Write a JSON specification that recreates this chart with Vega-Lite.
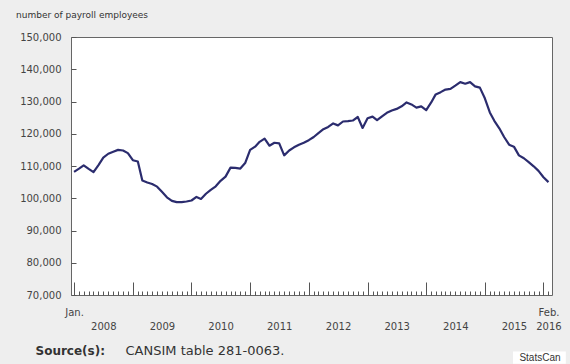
{
  "$schema": "https://vega.github.io/schema/vega-lite/v6.json",
  "autosize": "none",
  "width": 481,
  "height": 258,
  "padding": {"left": 71, "top": 37, "right": 18, "bottom": 69},
  "background": "#eeeeee",
  "title": {
    "text": "number of payroll employees",
    "anchor": "start",
    "frame": "group",
    "dx": -55,
    "offset": 12,
    "font": "DejaVu Sans",
    "fontSize": 9,
    "fontWeight": "normal",
    "color": "#333333"
  },
  "config": {
    "view": {"stroke": "#666666", "strokeWidth": 1, "fill": "white"},
    "axisX": {
      "zindex": 1,
      "tickCount": {"interval": "month", "step": 1},
      "tickSize": {"condition": {"test": "utcmonth(datum.value) === 0", "value": -13}, "value": -4},
      "tickColor": "#555555",
      "tickWidth": 1,
      "grid": false,
      "domain": false,
      "labelExpr": "utcmonth(datum.value) === 6 ? ['', '' + utcyear(datum.value)] : (utcyear(datum.value) === 2008 && utcmonth(datum.value) === 0 ? ['Jan.'] : (utcyear(datum.value) === 2016 && utcmonth(datum.value) === 1 ? ['Feb.', '2016'] : ''))",
      "labelOverlap": false,
      "labelBound": false,
      "labelFlush": false,
      "labelFont": "DejaVu Sans",
      "labelFontSize": 10,
      "labelColor": "#444444",
      "labelLineHeight": 14,
      "labelPadding": {"condition": {"test": "utcmonth(datum.value) === 0", "value": 25}, "value": 16},
      "titleX": -36,
      "titleY": 55,
      "titleAlign": "left",
      "titleBaseline": "middle",
      "titleFont": "DejaVu Sans",
      "titleFontSize": 12,
      "titleFontWeight": "bold",
      "titleColor": "#333333"
    },
    "axisY": {
      "zindex": 1,
      "tickCount": 8,
      "format": ",.0f",
      "tickSize": -5,
      "tickColor": "#555555",
      "tickWidth": 1,
      "grid": false,
      "domain": false,
      "labelOverlap": false,
      "labelFont": "DejaVu Sans",
      "labelFontSize": 10,
      "labelColor": "#444444",
      "labelPadding": 15,
      "titleAngle": 0,
      "titleX": 54,
      "titleY": 313,
      "titleAlign": "left",
      "titleBaseline": "middle",
      "titleFont": "DejaVu Sans",
      "titleFontSize": 13,
      "titleFontWeight": "normal",
      "titleColor": "#333333"
    }
  },
  "layer": [
    {
      "data": {
        "values": [
          {"month": "2008-01-01", "employees": 108200}, {"month": "2008-02-01", "employees": 109200}, {"month": "2008-03-01", "employees": 110200}, {"month": "2008-04-01", "employees": 109100}, {"month": "2008-05-01", "employees": 108100}, {"month": "2008-06-01", "employees": 110300}, {"month": "2008-07-01", "employees": 112600}, {"month": "2008-08-01", "employees": 113800}, {"month": "2008-09-01", "employees": 114400}, {"month": "2008-10-01", "employees": 115000}, {"month": "2008-11-01", "employees": 114800}, {"month": "2008-12-01", "employees": 114000},
          {"month": "2009-01-01", "employees": 111800}, {"month": "2009-02-01", "employees": 111400}, {"month": "2009-03-01", "employees": 105500}, {"month": "2009-04-01", "employees": 104900}, {"month": "2009-05-01", "employees": 104400}, {"month": "2009-06-01", "employees": 103600}, {"month": "2009-07-01", "employees": 102000}, {"month": "2009-08-01", "employees": 100300}, {"month": "2009-09-01", "employees": 99200}, {"month": "2009-10-01", "employees": 98800}, {"month": "2009-11-01", "employees": 98800}, {"month": "2009-12-01", "employees": 99000},
          {"month": "2010-01-01", "employees": 99300}, {"month": "2010-02-01", "employees": 100400}, {"month": "2010-03-01", "employees": 99800}, {"month": "2010-04-01", "employees": 101400}, {"month": "2010-05-01", "employees": 102600}, {"month": "2010-06-01", "employees": 103700}, {"month": "2010-07-01", "employees": 105400}, {"month": "2010-08-01", "employees": 106700}, {"month": "2010-09-01", "employees": 109500}, {"month": "2010-10-01", "employees": 109400}, {"month": "2010-11-01", "employees": 109200}, {"month": "2010-12-01", "employees": 110900},
          {"month": "2011-01-01", "employees": 115000}, {"month": "2011-02-01", "employees": 116000}, {"month": "2011-03-01", "employees": 117500}, {"month": "2011-04-01", "employees": 118500}, {"month": "2011-05-01", "employees": 116300}, {"month": "2011-06-01", "employees": 117200}, {"month": "2011-07-01", "employees": 117000}, {"month": "2011-08-01", "employees": 113300}, {"month": "2011-09-01", "employees": 114800}, {"month": "2011-10-01", "employees": 115800}, {"month": "2011-11-01", "employees": 116600}, {"month": "2011-12-01", "employees": 117200},
          {"month": "2012-01-01", "employees": 118000}, {"month": "2012-02-01", "employees": 119000}, {"month": "2012-03-01", "employees": 120200}, {"month": "2012-04-01", "employees": 121400}, {"month": "2012-05-01", "employees": 122100}, {"month": "2012-06-01", "employees": 123200}, {"month": "2012-07-01", "employees": 122600}, {"month": "2012-08-01", "employees": 123800}, {"month": "2012-09-01", "employees": 123900}, {"month": "2012-10-01", "employees": 124100}, {"month": "2012-11-01", "employees": 125200}, {"month": "2012-12-01", "employees": 121800},
          {"month": "2013-01-01", "employees": 124800}, {"month": "2013-02-01", "employees": 125300}, {"month": "2013-03-01", "employees": 124200}, {"month": "2013-04-01", "employees": 125400}, {"month": "2013-05-01", "employees": 126500}, {"month": "2013-06-01", "employees": 127200}, {"month": "2013-07-01", "employees": 127700}, {"month": "2013-08-01", "employees": 128500}, {"month": "2013-09-01", "employees": 129700}, {"month": "2013-10-01", "employees": 129100}, {"month": "2013-11-01", "employees": 128100}, {"month": "2013-12-01", "employees": 128500},
          {"month": "2014-01-01", "employees": 127300}, {"month": "2014-02-01", "employees": 129700}, {"month": "2014-03-01", "employees": 132200}, {"month": "2014-04-01", "employees": 132900}, {"month": "2014-05-01", "employees": 133700}, {"month": "2014-06-01", "employees": 133900}, {"month": "2014-07-01", "employees": 134900}, {"month": "2014-08-01", "employees": 136000}, {"month": "2014-09-01", "employees": 135500}, {"month": "2014-10-01", "employees": 136000}, {"month": "2014-11-01", "employees": 134700}, {"month": "2014-12-01", "employees": 134300},
          {"month": "2015-01-01", "employees": 131000}, {"month": "2015-02-01", "employees": 126600}, {"month": "2015-03-01", "employees": 124000}, {"month": "2015-04-01", "employees": 121700}, {"month": "2015-05-01", "employees": 119000}, {"month": "2015-06-01", "employees": 116600}, {"month": "2015-07-01", "employees": 116000}, {"month": "2015-08-01", "employees": 113300}, {"month": "2015-09-01", "employees": 112400}, {"month": "2015-10-01", "employees": 111200}, {"month": "2015-11-01", "employees": 109900}, {"month": "2015-12-01", "employees": 108500},
          {"month": "2016-01-01", "employees": 106500}, {"month": "2016-02-01", "employees": 105000}
        ]
      },
      "mark": {"type": "line", "color": "#2b2c6e", "strokeWidth": 2.2, "strokeJoin": "round"},
      "encoding": {
        "x": {
          "field": "month",
          "type": "temporal",
          "title": "Source(s):",
          "scale": {
            "type": "utc",
            "nice": false,
            "domain": [
              {"year": 2007, "month": 12, "date": 13, "utc": true},
              {"year": 2016, "month": 2, "date": 23, "utc": true}
            ]
          }
        },
        "y": {
          "field": "employees",
          "type": "quantitative",
          "title": "CANSIM table 281-0063.",
          "scale": {"domain": [70000, 150000], "nice": false, "zero": false}
        }
      }
    },
    {
      "data": {"values": [{"credit": "StatsCan"}]},
      "mark": {"type": "rect", "fill": "white"},
      "encoding": {
        "x": {"datum": {"year": 2015, "month": 6, "date": 25, "utc": true}, "type": "temporal"},
        "x2": {"datum": {"year": 2016, "month": 5, "date": 19, "utc": true}},
        "y": {"datum": 52500, "type": "quantitative"},
        "y2": {"datum": 48700}
      }
    },
    {
      "data": {"values": [{"credit": "StatsCan"}]},
      "mark": {"type": "text", "font": "Liberation Sans", "fontSize": 10, "color": "#333333", "align": "center", "baseline": "middle"},
      "encoding": {
        "x": {"datum": {"year": 2015, "month": 12, "date": 10, "utc": true}, "type": "temporal"},
        "y": {"datum": 50600, "type": "quantitative"},
        "text": {"field": "credit"}
      }
    }
  ]
}
